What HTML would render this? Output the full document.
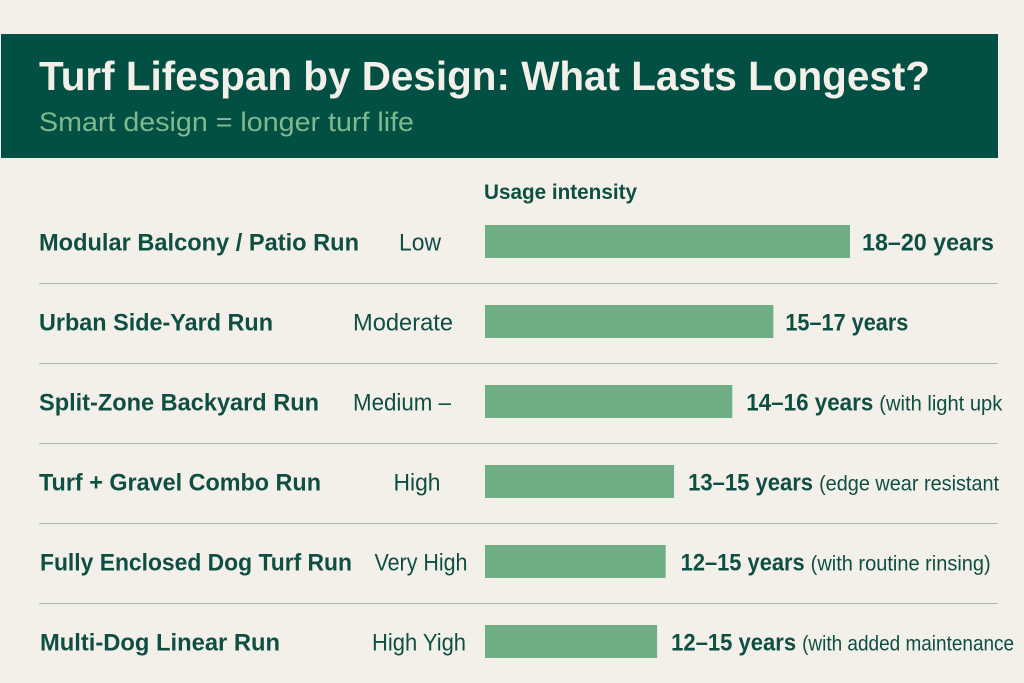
<!DOCTYPE html>
<html lang="en">
<head>
<meta charset="utf-8">
<title>Turf Lifespan by Design</title>
<style>
html,body{margin:0;padding:0;background:#f3f0e9;}
svg{display:block;font-family:"Liberation Sans",sans-serif;}
</style>
</head>
<body>
<svg id="chart" width="1024" height="683" viewBox="0 0 1024 683" xmlns="http://www.w3.org/2000/svg">
  <rect x="0" y="0" width="1024" height="683" fill="#f3f0e9"/>
  <rect x="1" y="34" width="997" height="124" fill="#024f43"/>
  <text x="39" y="90" font-size="41" font-weight="700" fill="#f3f0e9" textLength="891" lengthAdjust="spacingAndGlyphs">Turf Lifespan by Design: What Lasts Longest?</text>
  <text x="39" y="131" font-size="27" fill="#7fb98d" textLength="375" lengthAdjust="spacingAndGlyphs">Smart design = longer turf life</text>
  <text x="484" y="199" font-size="21" font-weight="700" fill="#0f4f43" textLength="153" lengthAdjust="spacingAndGlyphs">Usage intensity</text>
  <g id="rows"></g>
</svg>
<script>
const categories = ["Modular Balcony / Patio Run","Urban Side-Yard Run","Split-Zone Backyard Run","Turf + Gravel Combo Run","Fully Enclosed Dog Turf Run","Multi-Dog Linear Run"];
const intensities = ["Low","Moderate","Medium –","High","Very High","High Yigh"];
const barValues = [20,15.8,13.55,10.36,9.9,9.43];
const rangeLabels = ["18–20 years","15–17 years","14–16 years","13–15 years","12–15 years","12–15 years"];
const notes = ["","","(with light upk","(edge wear resistant","(with routine rinsing)","(with added maintenance"];

const nameFit = [320,234,280,282,312,240];
const intensityFit = [42,100,98,47,93,94];
const rangeFit = [132,123,127,125,124,125];
const noteFit = [0,0,123,180,180,212];
const labelGap = [12,12,14,14,15,14];

const NS = "http://www.w3.org/2000/svg";
const rows = document.getElementById("rows");
const xScale = v => 485 + v * 18.25;
const rowCenter = i => 242 + i * 80;

function addText(parent, x, y, str, size, weight, anchor, fit) {
  const t = document.createElementNS(NS, "text");
  t.setAttribute("x", x);
  t.setAttribute("y", y);
  t.setAttribute("font-size", size);
  t.setAttribute("font-weight", weight);
  t.setAttribute("fill", "#0f4f43");
  t.setAttribute("text-anchor", anchor);
  if (fit) {
    t.setAttribute("textLength", fit);
    t.setAttribute("lengthAdjust", "spacingAndGlyphs");
  }
  t.textContent = str;
  parent.appendChild(t);
  return t;
}

categories.forEach((name, i) => {
  const cy = rowCenter(i);
  const base = cy + 8.5;
  const g = document.createElementNS(NS, "g");
  
  
  rows.appendChild(g);

  const nameEl = addText(g, i >= 4 ? 40 : 39, base, name, 24, 700, "start", nameFit[i]);
  
  

  const intensityCenter = [420, 403, 402, 417, 421, 419][i];
  const intensityEl = addText(g, intensityCenter, base, intensities[i], 24, 400, "middle", intensityFit[i]);
  
  

  const bar = document.createElementNS(NS, "rect");
  bar.setAttribute("x", xScale(0));
  bar.setAttribute("y", cy - 17);
  bar.setAttribute("width", xScale(barValues[i]) - xScale(0));
  bar.setAttribute("height", 33);
  bar.setAttribute("fill", "#6fae84");
  
  
  g.appendChild(bar);

  const labelX = xScale(barValues[i]) + labelGap[i];
  const rangeEl = addText(g, labelX, base, rangeLabels[i], 24, 700, "start", rangeFit[i]);
  
  

  if (notes[i]) {
    const noteEl = addText(g, labelX + rangeFit[i] + 6, base, notes[i], 21, 400, "start", noteFit[i]);
    
    
  }

  if (i < categories.length - 1) {
    const rule = document.createElementNS(NS, "line");
    rule.setAttribute("x1", 39);
    rule.setAttribute("x2", 998);
    rule.setAttribute("y1", cy + 41.5);
    rule.setAttribute("y2", cy + 41.5);
    rule.setAttribute("stroke", "#9dbfae");
    rule.setAttribute("stroke-width", 1);
    
    
    g.appendChild(rule);
  }
});
</script>
</body>
</html>
